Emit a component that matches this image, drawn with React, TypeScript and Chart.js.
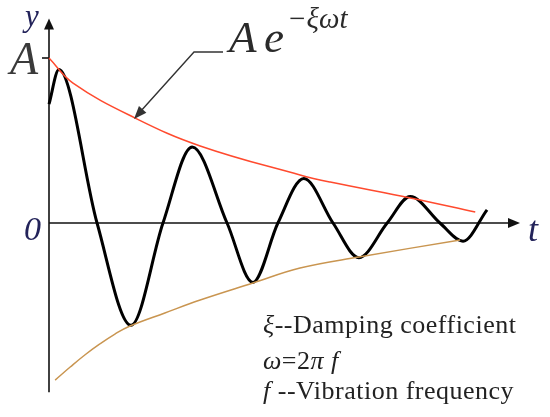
import React, { useEffect, useRef } from "react";
import { Chart, registerables } from "chart.js";

Chart.register(...registerables);

// Damped oscillation (t in arbitrary units, y relative to amplitude A = 1)
const T_CURVE = [0, 0.21, 1.02, 1.74, 2.42, 3.04, 3.78, 4.33, 4.86, 5.41, 6.03, 6.58, 7.18, 7.67, 8.3, 8.79, 9.3];
const Y_CURVE = [0.72, 0.93, 0, -0.62, 0, 0.46, 0, -0.36, 0, 0.27, 0, -0.21, 0, 0.16, 0, -0.11, 0.08];

// Upper envelope A·e^(−ξωt)
const T_UPPER = [0, 0.51, 1.83, 3.21, 5.33, 5.97, 7.67, 9.05];
const Y_UPPER = [1.0, 0.848, 0.636, 0.467, 0.291, 0.248, 0.152, 0.067];

// Lower envelope −A·e^(−ξωt)
const T_LOWER = [0.13, 0.45, 0.76, 1.08, 1.4, 1.72, 2.46, 3.21, 4.33, 5.33, 6.58, 8.73];
const Y_LOWER = [-0.952, -0.873, -0.8, -0.733, -0.673, -0.624, -0.545, -0.467, -0.364, -0.273, -0.206, -0.103];

// Axis extents
const X_AXIS = [0, 10];
const Y_AXIS = [-1.025, 1.24];

// Text
const FORMULA_BASE = ["A", "e"];
const FORMULA_EXP = "\u2212\u03be\u03c9t";
const LEGEND_LINES: [string, boolean][][] = [
  [["\u03be", true], ["--Damping coefficient", false]],
  [["\u03c9", true], ["=2", false], ["\u03c0\u00a0", true], ["f", true]],
  [["f\u00a0", true], ["--Vibration frequency", false]],
];

const FONT = '"Liberation Serif"';
const ASC = 0.8375; // baseline offset for line-height 1

const toPts = (xs: number[], ys: number[]) => xs.map((x, i) => ({ x, y: ys[i] }));

const overlay = {
  id: "overlay",
  beforeDatasetsDraw(chart: any) {
    const { ctx, scales } = chart;
    const xs = scales.x;
    const ys = scales.y;
    const x0 = xs.getPixelForValue(0);
    const y0 = ys.getPixelForValue(0);
    const xEnd = xs.getPixelForValue(X_AXIS[1]);
    const yTop = ys.getPixelForValue(Y_AXIS[1]);
    const yBot = ys.getPixelForValue(Y_AXIS[0]);
    const yA = ys.getPixelForValue(1);
    ctx.save();
    ctx.strokeStyle = "#111";
    ctx.fillStyle = "#111";
    ctx.lineWidth = 1.6;
    ctx.beginPath();
    ctx.moveTo(x0, yBot);
    ctx.lineTo(x0, yTop + 8);
    ctx.stroke();
    ctx.beginPath();
    ctx.moveTo(x0, yTop);
    ctx.lineTo(x0 - 5, yTop + 11);
    ctx.lineTo(x0 + 5, yTop + 11);
    ctx.closePath();
    ctx.fill();
    ctx.beginPath();
    ctx.moveTo(x0, y0);
    ctx.lineTo(xEnd - 8, y0);
    ctx.stroke();
    ctx.beginPath();
    ctx.moveTo(xEnd, y0);
    ctx.lineTo(xEnd - 12, y0 - 5);
    ctx.lineTo(xEnd - 12, y0 + 5);
    ctx.closePath();
    ctx.fill();
    ctx.beginPath();
    ctx.moveTo(x0 - 7, yA);
    ctx.lineTo(x0, yA);
    ctx.stroke();
    ctx.restore();
  },
  afterDraw(chart: any) {
    const { ctx } = chart;
    ctx.save();
    ctx.strokeStyle = "#333";
    ctx.fillStyle = "#333";
    ctx.lineWidth = 1.4;
    ctx.beginPath();
    ctx.moveTo(223, 52);
    ctx.lineTo(194, 52);
    ctx.lineTo(140, 112);
    ctx.stroke();
    const tipX = 134, tipY = 119;
    const ang = Math.atan2(52 - 119, 194 - 134);
    const len = 13, half = 5;
    const bx = tipX + Math.cos(ang) * len, by = tipY + Math.sin(ang) * len;
    const px = -Math.sin(ang) * half, py = Math.cos(ang) * half;
    ctx.beginPath();
    ctx.moveTo(tipX, tipY);
    ctx.lineTo(bx + px, by + py);
    ctx.lineTo(bx - px, by - py);
    ctx.closePath();
    ctx.fill();
    ctx.restore();
  },
};

function Label(props: { x: number; base: number; size: number; color: string; italic?: boolean; spacing?: number; children: React.ReactNode }) {
  const { x, base, size, color, italic, spacing, children } = props;
  return (
    <div
      style={{
        position: "absolute",
        left: x,
        top: base - ASC * size,
        fontFamily: FONT,
        fontSize: size,
        lineHeight: 1,
        fontStyle: italic ? "italic" : "normal",
        letterSpacing: spacing ?? 0,
        color,
        whiteSpace: "nowrap",
      }}
    >
      {children}
    </div>
  );
}

export default function App() {
  const ref = useRef<HTMLCanvasElement | null>(null);
  useEffect(() => {
    if (!ref.current) return;
    const chart = new Chart(ref.current, {
      type: "line",
      data: {
        datasets: [
          {
            data: toPts(T_UPPER, Y_UPPER),
            borderColor: "#ff4a2e",
            borderWidth: 1.5,
            pointRadius: 0,
            tension: 0.4,
            clip: false as any,
          },
          {
            data: toPts(T_LOWER, Y_LOWER),
            borderColor: "#c99550",
            borderWidth: 1.5,
            pointRadius: 0,
            tension: 0.4,
            clip: false as any,
          },
          {
            data: toPts(T_CURVE, Y_CURVE),
            borderColor: "#000",
            borderWidth: 3,
            pointRadius: 0,
            cubicInterpolationMode: "monotone",
            clip: false as any,
          },
        ],
      },
      options: {
        responsive: false,
        animation: false,
        events: [],
        layout: { padding: { left: 49, right: 30, top: 58, bottom: 20.75 } },
        scales: {
          x: { type: "linear", min: 0, max: 10, display: false },
          y: { type: "linear", min: -1.05, max: 1.0, display: false },
        },
        plugins: { legend: { display: false }, tooltip: { enabled: false } },
      },
      plugins: [overlay],
    });
    return () => chart.destroy();
  }, []);
  return (
    <div style={{ position: "fixed", left: 0, top: 0, width: 550, height: 417, background: "#fff", overflow: "hidden" }}>
      <canvas ref={ref} width={550} height={417} style={{ position: "absolute", left: 0, top: 0 }} />
      <Label x={229} base={53} size={45} color="#2a2a2a" italic>{FORMULA_BASE[0]}</Label>
      <Label x={264} base={53} size={45} color="#2a2a2a" italic>{FORMULA_BASE[1]}</Label>
      <Label x={287} base={28} size={29} color="#2a2a2a" italic>{FORMULA_EXP}</Label>
      <Label x={25} base={26} size={31} color="#23235a" italic>y</Label>
      <Label x={10} base={75} size={46} color="#3a3a3a" italic>A</Label>
      <Label x={24} base={240} size={34} color="#23235a" italic>0</Label>
      <Label x={528} base={241} size={36} color="#23235a" italic>t</Label>
      {LEGEND_LINES.map((parts, i) => (
        <Label key={i} x={263} base={[334, 370, 400][i]} size={26} spacing={0.5} color="#222">
          {parts.map(([s, it], j) => (
            <span key={j} style={{ fontStyle: it ? "italic" : "normal" }}>{s}</span>
          ))}
        </Label>
      ))}
    </div>
  );
}
